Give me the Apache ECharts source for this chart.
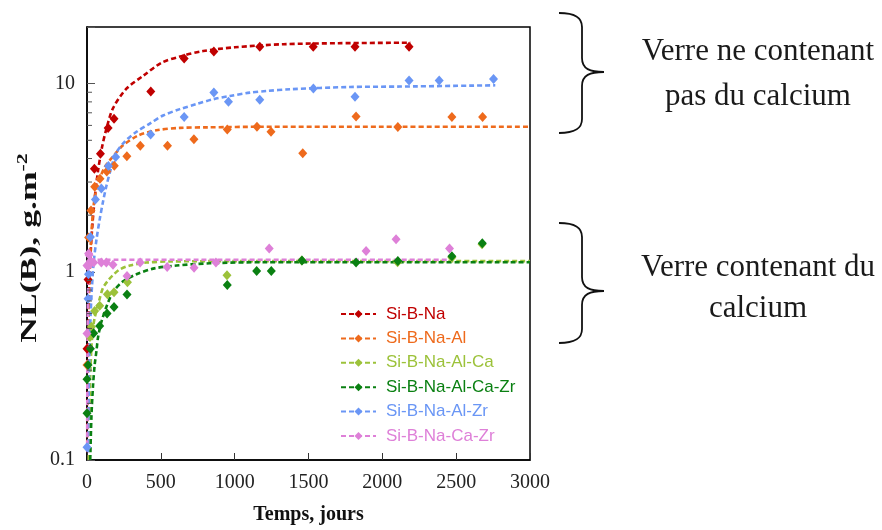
<!DOCTYPE html>
<html>
<head>
<meta charset="utf-8">
<script src="https://cdn.jsdelivr.net/npm/echarts@6/dist/echarts.min.js"></script>
<style>
html,body{margin:0;padding:0;background:#fff;}
#main{width:882px;height:530px;}
</style>
</head>
<body>
<div id="main"></div>
<script>
// ---- Data ----
const seriesNames = ['Si-B-Na','Si-B-Na-Al','Si-B-Na-Al-Ca','Si-B-Na-Al-Ca-Zr','Si-B-Na-Al-Zr','Si-B-Na-Ca-Zr'];

// measured points: days / NL(B) g.m-2
const naDays = [0, 7, 50, 91, 143, 183, 432, 658, 859, 1170, 1532, 1815, 2181];
const naVals = [0.39, 0.91, 3.53, 4.24, 5.82, 6.51, 9.08, 13.6, 14.8, 15.7, 15.7, 15.7, 15.7];

const alDays = [0, 11, 27, 52, 88, 134, 185, 270, 361, 545, 724, 950, 1151, 1246, 1461, 1822, 2105, 2471, 2679];
const alVals = [0.32, 1.52, 2.12, 2.83, 3.12, 3.41, 3.66, 4.11, 4.68, 4.68, 5.07, 5.71, 5.91, 5.55, 4.27, 6.7, 5.89, 6.64, 6.64];

const caDays = [20, 30, 52, 86, 138, 183, 274, 948, 1454, 2103, 2471, 2675];
const caVals = [0.45, 0.51, 0.62, 0.66, 0.76, 0.78, 0.88, 0.96, 1.15, 1.125, 1.19, 1.40];

const czDays = [0, 0, 7, 23, 45, 86, 136, 183, 271, 950, 1149, 1248, 1456, 1822, 2105, 2471, 2677];
const czVals = [0.177, 0.269, 0.32, 0.39, 0.472, 0.515, 0.60, 0.65, 0.757, 0.85, 1.01, 1.01, 1.15, 1.12, 1.14, 1.21, 1.42];

const zrDays = [0, 7, 10, 23, 57, 97, 145, 194, 431, 658, 859, 958, 1170, 1533, 1815, 2181, 2385, 2753];
const zrVals = [0.117, 0.72, 0.97, 1.53, 2.42, 2.77, 3.65, 4.07, 5.37, 6.64, 8.98, 8.01, 8.2, 9.42, 8.51, 10.4, 10.4, 10.6];

const pkDays = [0, 0, 7, 11, 14, 23, 45, 97, 131, 176, 271, 360, 543, 725, 873, 1234, 1890, 2093, 2455];
const pkVals = [0.47, 1.08, 1.07, 1.25, 1.23, 1.14, 1.12, 1.12, 1.12, 1.09, 0.95, 1.12, 1.06, 1.05, 1.12, 1.33, 1.29, 1.49, 1.33];

// fitted (dashed) curves
const naFitX = [2, 5, 10, 18, 30, 52, 75, 102, 130, 176, 267, 380, 504, 640, 787, 1000, 1330, 1700, 2190];
const naFitY = [0.11, 0.26, 0.52, 0.93, 1.5, 2.45, 3.45, 4.6, 5.7, 7.4, 9.4, 11.0, 12.9, 14.0, 14.9, 15.6, 16.2, 16.4, 16.5];

const alFitX = [2, 5, 10, 20, 30, 41, 55, 75, 120, 176, 244, 346, 470, 629, 821, 1200, 2000, 3000];
const alFitY = [0.12, 0.3, 0.6, 1.1, 1.6, 2.1, 2.55, 2.95, 3.6, 4.1, 4.7, 5.3, 5.65, 5.82, 5.86, 5.9, 5.9, 5.9];

const caFitX = [12, 18, 30, 41, 52, 86, 108, 143, 176, 222, 290, 403, 560, 1000, 3000];
const caFitY = [0.1, 0.22, 0.4, 0.5, 0.57, 0.72, 0.82, 0.9, 0.96, 1.03, 1.08, 1.12, 1.135, 1.14, 1.14];

const czFitX = [22, 30, 41, 52, 64, 75, 97, 131, 176, 244, 335, 448, 606, 832, 1200, 3000];
const czFitY = [0.1, 0.17, 0.25, 0.32, 0.38, 0.45, 0.54, 0.65, 0.78, 0.89, 0.97, 1.04, 1.08, 1.11, 1.125, 1.125];

const zrFitX = [7, 11.5, 18, 25, 34, 45, 64, 86, 108, 131, 165, 199, 256, 335, 425, 515, 629, 742, 854, 968, 1103, 1216, 1375, 1781, 2120, 2765];
const zrFitY = [0.11, 0.225, 0.41, 0.61, 0.84, 1.12, 1.48, 1.9, 2.35, 2.85, 3.6, 4.3, 4.92, 5.55, 6.13, 6.77, 7.32, 7.79, 8.26, 8.6, 8.96, 9.14, 9.34, 9.6, 9.65, 9.8];

const pkFitX = [1, 2, 3, 4, 6, 9, 13, 20, 35, 2460];
const pkFitY = [0.12, 0.25, 0.37, 0.48, 0.68, 0.9, 1.05, 1.13, 1.16, 1.16];

const xTicks = [0, 500, 1000, 1500, 2000, 2500, 3000];
const yMajorTicks = [0.1, 1, 10];
const yMinorTicks = [0.2,0.3,0.4,0.5,0.6,0.7,0.8,0.9,2,3,4,5,6,7,8,9];

// ---- styling ----
const colors = ['#C00000', '#EE6A1C', '#9CC23A', '#0A8012', '#6A96F5', '#DE80D8'];
const serif = '"Liberation Serif", "Times New Roman", serif';
const sans = '"Liberation Sans", Arial, sans-serif';

const pointSets = [[naDays, naVals], [alDays, alVals], [caDays, caVals], [czDays, czVals], [zrDays, zrVals], [pkDays, pkVals]];
const fitSets = [[naFitX, naFitY], [alFitX, alFitY], [caFitX, caFitY], [czFitX, czFitY], [zrFitX, zrFitY], [pkFitX, pkFitY]];
const zip = (a, b) => a.map((v, i) => [v, b[i]]);

const series = [];
seriesNames.forEach((name, i) => {
  series.push({
    name: name,
    type: 'line',
    data: zip(fitSets[i][0], fitSets[i][1]),
    smooth: 0.3,
    symbol: 'diamond',
    symbolSize: [9, 10],
    showSymbol: false,
    clip: true,
    color: colors[i],
    lineStyle: { color: colors[i], width: 2.6, type: [5, 3] },
    itemStyle: { color: colors[i] },
    z: 3,
    silent: true
  });
});
seriesNames.forEach((name, i) => {
  series.push({
    name: name,
    type: 'scatter',
    data: zip(pointSets[i][0], pointSets[i][1]),
    symbol: 'diamond',
    symbolSize: [9, 10],
    clip: false,
    itemStyle: { color: colors[i], opacity: 1 },
    z: 4
  });
});
// minor ticks of the log axis (2..9 per decade), drawn through the axis scale
series.push({
  type: 'custom',
  silent: true,
  z: 5,
  clip: false,
  data: yMinorTicks.map(v => [xTicks[0], v]),
  renderItem: function (params, api) {
    const p = api.coord([api.value(0), api.value(1)]);
    return { type: 'line', shape: { x1: p[0], y1: p[1], x2: p[0] + 5, y2: p[1] }, style: { stroke: '#555', lineWidth: 1 } };
  }
});

function brace(x0, xs, xt, yTop, yTip, yBot) {
  const st = { stroke: '#111', lineWidth: 1.8, fill: null };
  const r = 14;
  return [
    { type: 'bezierCurve', shape: { x1: x0, y1: yTop, cpx1: xs - 6, cpy1: yTop, cpx2: xs, cpy2: yTop + 5, x2: xs, y2: yTop + r }, style: st, silent: true },
    { type: 'line', shape: { x1: xs, y1: yTop + r, x2: xs, y2: yTip - r }, style: st, silent: true },
    { type: 'bezierCurve', shape: { x1: xs, y1: yTip - r, cpx1: xs, cpy1: yTip - 3, cpx2: xs + 8, cpy2: yTip, x2: xt, y2: yTip }, style: st, silent: true },
    { type: 'bezierCurve', shape: { x1: xt, y1: yTip, cpx1: xs + 8, cpy1: yTip, cpx2: xs, cpy2: yTip + 3, x2: xs, y2: yTip + r }, style: st, silent: true },
    { type: 'line', shape: { x1: xs, y1: yTip + r, x2: xs, y2: yBot - r }, style: st, silent: true },
    { type: 'bezierCurve', shape: { x1: xs, y1: yBot - r, cpx1: xs, cpy1: yBot - 5, cpx2: xs - 6, cpy2: yBot, x2: x0, y2: yBot }, style: st, silent: true }
  ];
}
function label(text, x, y) {
  return { type: 'text', x: x, y: y, silent: true,
    style: { text: text, font: '31px ' + serif, fill: '#1a1a1a', align: 'center', verticalAlign: 'middle', textAlign: 'center', textVerticalAlign: 'middle' } };
}
// y-axis title (rotated, with superscript)
const yTitle = {
  type: 'text', x: 30, y: 248, rotation: Math.PI / 2, scaleX: 1.55, silent: true,
  style: {
    text: '{a|NL(B), g.m}{b|-2}', align: 'center', verticalAlign: 'middle', textAlign: 'center', textVerticalAlign: 'middle',
    rich: {
      a: { fontFamily: serif, fontWeight: 'bold', fontSize: 23, fill: '#111', color: '#111', lineHeight: 28 },
      b: { fontFamily: serif, fontWeight: 'bold', fontSize: 14, fill: '#111', color: '#111', verticalAlign: 'top', lineHeight: 28 }
    }
  }
};

const option = {
  backgroundColor: '#ffffff',
  animation: false,
  grid: { left: 87, right: 352, top: 27, bottom: 63, show: true, borderColor: '#000', borderWidth: 1.5, backgroundColor: 'transparent' },
  legend: {
    orient: 'vertical',
    left: 340,
    top: 304,
    padding: 0,
    itemWidth: 35,
    itemHeight: 10,
    itemGap: 4.4,
    selectedMode: false,
    data: seriesNames.map((n, i) => ({ name: n, textStyle: { color: colors[i] } })),
    textStyle: { fontFamily: sans, fontSize: 17, lineHeight: 20, padding: [0, 0, 0, 5] }
  },
  xAxis: {
    type: 'value',
    min: xTicks[0],
    max: xTicks[xTicks.length - 1],
    interval: 500,
    name: 'Temps, jours',
    nameLocation: 'middle',
    nameGap: 45,
    nameTextStyle: { fontFamily: serif, fontWeight: 'bold', fontSize: 20, color: '#111' },
    axisLine: { show: true, lineStyle: { color: '#000', width: 1.5 } },
    axisTick: { show: true, inside: true, length: 7, lineStyle: { color: '#333', width: 1 } },
    axisLabel: { fontFamily: serif, fontSize: 20, color: '#222', margin: 13, formatter: v => String(v) },
    splitLine: { show: false }
  },
  yAxis: {
    type: 'log',
    logBase: 10,
    min: yMajorTicks[0],
    max: 20,
    axisLine: { show: true, lineStyle: { color: '#000', width: 1.5 } },
    axisTick: { show: true, inside: true, length: 8, lineStyle: { color: '#555', width: 1 } },
    axisLabel: {
      fontFamily: serif, fontSize: 20, color: '#222', margin: 12,
      formatter: function (v) {
        const r = +(+v).toPrecision(3);
        return yMajorTicks.indexOf(r) >= 0 ? String(r) : '';
      }
    },
    minorTick: { show: false },
    splitLine: { show: false }
  },
  graphic: [].concat(
    brace(559, 582, 604, 13, 72, 133),
    brace(559, 582, 604, 223, 291, 343),
    [label('Verre ne contenant', 758, 52), label('pas du calcium', 758, 97),
     label('Verre contenant du', 758, 268), label('calcium', 758, 309), yTitle]
  ),
  series: series
};

const chart = echarts.init(document.getElementById('main'), null, { renderer: 'canvas' });
chart.setOption(option);
</script>
</body>
</html>
